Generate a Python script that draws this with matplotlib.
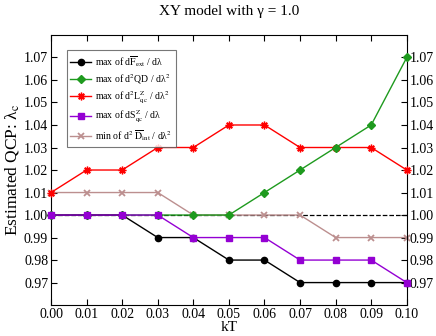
import numpy as np
import matplotlib.pyplot as plt

plt.rcParams['font.family'] = ['Liberation Serif', 'DejaVu Serif']
plt.rcParams['mathtext.fontset'] = 'stix'

kT = [0.00, 0.01, 0.02, 0.03, 0.04, 0.05, 0.06, 0.07, 0.08, 0.09, 0.10]
max_dF = [1.00, 1.00, 1.00, 0.99, 0.99, 0.98, 0.98, 0.97, 0.97, 0.97, 0.97]
max_QD = [1.00, 1.00, 1.00, 1.00, 1.00, 1.00, 1.01, 1.02, 1.03, 1.04, 1.07]
max_L = [1.01, 1.02, 1.02, 1.03, 1.03, 1.04, 1.04, 1.03, 1.03, 1.03, 1.02]
max_S = [1.00, 1.00, 1.00, 1.00, 0.99, 0.99, 0.99, 0.98, 0.98, 0.98, 0.97]
min_D = [1.01, 1.01, 1.01, 1.01, 1.00, 1.00, 1.00, 1.00, 0.99, 0.99, 0.99]

labels = [
    r'max of d$\overline{\mathrm{F}}_{\mathrm{ext}}$ / dλ',
    r'max of d$^{\mathrm{2}}$QD / dλ$^{\mathrm{2}}$',
    r'max of d$^{\mathrm{2}}$L$^{\mathrm{Z}}_{\mathrm{qc}}$ / dλ$^{\mathrm{2}}$',
    r'max of dS$^{\mathrm{Z}}_{\mathrm{qc}}$ / dλ',
    r'min of d$^{\mathrm{2}}$ $\overline{\mathrm{D}}_{\mathrm{int}}$ / dλ$^{\mathrm{2}}$',
]

fig = plt.figure(figsize=(4.36, 3.36), dpi=100)
ax = fig.add_axes([0.117, 0.092, 0.816, 0.804])

ax.plot(kT, max_dF, '-o', color='black', lw=1, ms=4.5, label=labels[0], clip_on=False, zorder=5)
ax.plot(kT, max_QD, '-D', color='#1e9a1e', lw=1, ms=4, label=labels[1], clip_on=False, zorder=4)
ax.plot(kT, max_L, '-', marker=(8, 2, 0), color='red', lw=1, ms=5.5, mew=1.0,
        label=labels[2], clip_on=False, zorder=3)
ax.plot(kT, max_S, '-s', color='#9400d3', lw=1, ms=4, label=labels[3], clip_on=False, zorder=6)
ax.plot(kT, min_D, '-x', color='#bc8f8f', lw=1, ms=4, mew=1.3, label=labels[4], clip_on=False, zorder=2)
ax.axhline(1.0, color='black', ls='--', lw=0.9, zorder=1)

ax.set_xlim(0, 0.10)
ax.set_ylim(0.96, 1.08)
ax.set_xticks(kT)
ax.set_xticklabels([f'{v:.2f}' for v in kT])
yt = np.round(np.arange(0.97, 1.0701, 0.01), 2)
ax.set_yticks(yt)
ax.set_yticklabels([f'{v:.2f}' for v in yt])
ax.tick_params(direction='in', top=True, right=True, labelright=True,
               labelsize=10, length=4, pad=2)

ax.set_xlabel('kT', fontsize=11, labelpad=0)
ax.set_ylabel(r'Estimated QCP: λ$_{\mathrm{c}}$', fontsize=12.5, labelpad=2)
ax.set_title('XY model with γ = 1.0', fontsize=11, pad=14)

leg = ax.legend(loc='upper left', fontsize=7, frameon=True, fancybox=False,
                borderaxespad=1.6, handlelength=2.1, labelspacing=0.3,
                borderpad=0.4, handletextpad=0.4)
leg.get_frame().set_edgecolor('#555555')
leg.get_frame().set_linewidth(0.8)

fig.savefig('out.png', dpi=100)
